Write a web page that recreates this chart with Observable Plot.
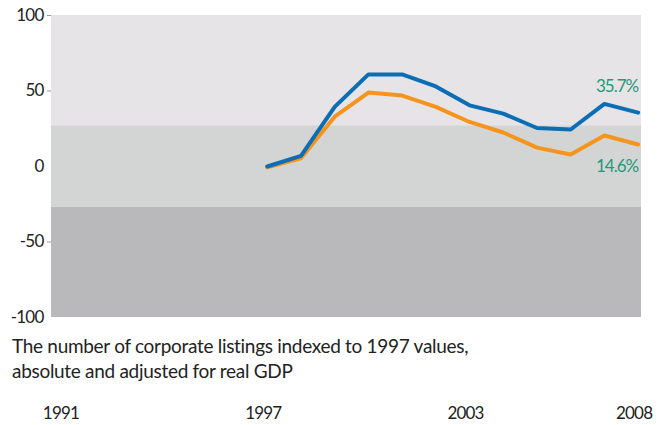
<!DOCTYPE html>
<html>
<head>
<meta charset="utf-8">
<script src="https://cdn.jsdelivr.net/npm/d3@7"></script>
<script src="https://cdn.jsdelivr.net/npm/@observablehq/plot@0.6"></script>
<style>
  body { margin: 0; background: #fff; }
  #wrap { position: relative; width: 660px; height: 425px; font-family: Lato, "Liberation Sans", sans-serif; }
  #caption { position: absolute; left: 12px; top: 333px; font-size: 19px; line-height: 25px; color: #222; letter-spacing: -0.3px; }
  svg text { letter-spacing: -0.8px; }
  g[aria-label="text"] text { letter-spacing: -1px; }
</style>
</head>
<body>
<div id="wrap">
  <div id="chart"></div>
  <div id="caption">The number of corporate listings indexed to 1997 values,<br>absolute and adjusted for real GDP</div>
</div>
<script>
const years = [1997, 1998, 1999, 2000, 2001, 2002, 2003, 2004, 2005, 2006, 2007, 2008];
const absolute = [0, 7, 39.5, 61, 61, 53, 40.5, 35, 25.5, 24.5, 41.5, 35.7];
const adjusted = [-0.5, 5.5, 33, 49, 47, 39.5, 29.5, 22.5, 12.5, 8, 20.5, 14.6];
const seriesNames = ["absolute", "adjusted for real GDP"];
const seriesColors = ["#0b6db4", "#f7941e"];
const bandLow = [27, -27, -100];
const bandHigh = [100, 27, -27];
const bandColors = ["#e6e4e7", "#d3d5d4", "#b9b9bb"];
const xTicks = [1991, 1997, 2003, 2008];
const yTicks = [-100, -50, 0, 50, 100];
const yTickMarks = [-50, 50, 100];

const rows = [];
years.forEach((y, i) => {
  rows.push({year: y, value: absolute[i], series: seriesNames[0]});
  rows.push({year: y, value: adjusted[i], series: seriesNames[1]});
});
const bands = bandLow.map((lo, i) => ({lo, hi: bandHigh[i], fill: bandColors[i]}));
const last = years.length - 1;
const endAbs = [{year: years[last], value: absolute[last]}];
const endAdj = [{year: years[last], value: adjusted[last]}];

const chart = Plot.plot({
  width: 660,
  height: 425,
  marginTop: 15,
  marginBottom: 108,
  marginLeft: 51,
  marginRight: 19,
  style: {fontFamily: "Lato, 'Liberation Sans', sans-serif", fontSize: "17px", color: "#222", background: "white"},
  x: {domain: [1990.6, 2008.1]},
  y: {domain: [-100, 100]},
  color: {domain: seriesNames, range: seriesColors},
  marks: [
    Plot.rect(bands, {y1: "lo", y2: "hi", fill: "fill"}),
    Plot.line(rows.filter(d => d.series === seriesNames[1]), {x: "year", y: "value", stroke: "series", strokeWidth: 4, strokeLinejoin: "miter"}),
    Plot.line(rows.filter(d => d.series === seriesNames[0]), {x: "year", y: "value", stroke: "series", strokeWidth: 4, strokeLinejoin: "miter"}),
    Plot.text(endAbs, {x: "year", y: "value", text: d => d.value + "%", textAnchor: "end", dy: -26, fill: "#1e9a78", fontSize: 17}),
    Plot.text(endAdj, {x: "year", y: "value", text: d => d.value + "%", textAnchor: "end", dy: 22, fill: "#1e9a78", fontSize: 17}),
    Plot.axisY({ticks: yTicks, tickSize: 0, tickPadding: 8, tickFormat: d => String(d), label: null}),
    Plot.axisY({ticks: yTickMarks, tickSize: 4, text: null, stroke: "#9a9a9a", label: null}),
    Plot.axisX({ticks: xTicks, tickSize: 0, tickPadding: 89, tickFormat: d => String(d), label: null, dx: -4})
  ]
});
document.getElementById("chart").appendChild(chart);
</script>
</body>
</html>
